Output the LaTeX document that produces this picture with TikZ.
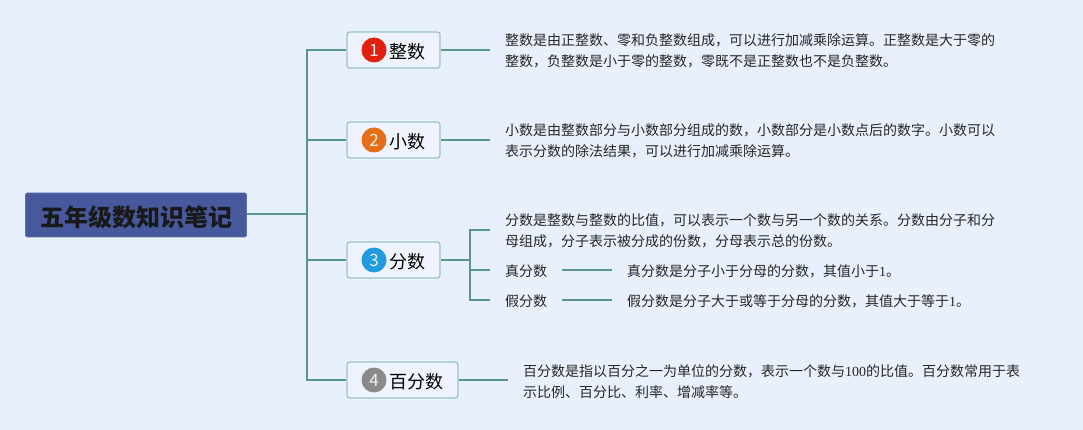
\documentclass[tikz,border=0pt]{standalone}
\usepackage{fontspec}
\usepackage{xcolor}
\setmainfont{Noto Sans CJK SC}
\newfontfamily\numfont{Liberation Serif}
\definecolor{bgblue}{HTML}{E9F0FD}
\definecolor{linegreen}{HTML}{5A9691}
\definecolor{boxline}{HTML}{9CC3C8}
\definecolor{boxfill}{HTML}{EEF3FD}
\definecolor{rootblue}{HTML}{47599C}
\definecolor{badgered}{HTML}{E0210F}
\definecolor{badgeorange}{HTML}{E56F17}
\definecolor{badgeblue}{HTML}{1F9BE0}
\definecolor{badgegray}{HTML}{8A8A8A}
\tikzset{
  root/.style={rectangle, rounded corners=2pt, draw=rootblue!85!white, fill=rootblue, line width=0.8pt,
    minimum width=221pt, minimum height=44pt, inner sep=0pt, text height=22pt, text depth=0pt,
    font=\fontsize{24}{28}\selectfont\bfseries, text=black!90},
  topic/.style={rectangle, rounded corners=2.5pt, draw=boxline, fill=boxfill, line width=1.4pt,
    minimum height=36pt, inner xsep=0pt, inner ysep=0pt, text height=17pt, text depth=0pt,
    font=\fontsize{18}{22}\selectfont},
  badge/.style={circle, minimum size=25pt, inner sep=0pt, text=white!90!gray, font=\fontsize{17}{20}\selectfont},
  note/.style={anchor=west, align=left, inner xsep=15pt, inner ysep=0pt, text=black!85,
    font=\fontsize{14}{21}\selectfont},
  term/.style={note, text height=12.6pt, text depth=0pt},
  link/.style={draw=linegreen, line width=1.7pt}
}
\begin{document}
\begin{tikzpicture}[x=1pt, y=-1pt]
        \useasboundingbox[fill=bgblue] (0,0) rectangle (1083,430);
        % Nodes
        \node[root] (R) at (136,215) {五年级数知识笔记};
        \coordinate (T) at (307,214);
        \node[topic, minimum width=93pt] (T1) at (393.5,50) {\hspace*{28pt}整数};
        \node[topic, minimum width=93pt] (T2) at (393.5,140) {\hspace*{28pt}小数};
        \node[topic, minimum width=93pt] (T3) at (393.5,260) {\hspace*{28pt}分数};
        \node[topic, minimum width=111pt] (T4) at (402.5,380) {\hspace*{28pt}百分数};
        % Badges
        \node[badge, fill=badgered] (B1) at (374,50) {1};
        \node[badge, fill=badgeorange] (B2) at (374,140) {2};
        \node[badge, fill=badgeblue] (B3) at (374,260) {3};
        \node[badge, fill=badgegray] (B4) at (374,380) {4};
        % Notes
        \node[note] (N1) at (490,51) {整数是由正整数、零和负整数组成，可以进行加减乘除运算。正整数是大于零的\\整数，负整数是小于零的整数，零既不是正整数也不是负整数。};
        \node[note] (N2) at (490,141) {小数是由整数部分与小数部分组成的数，小数部分是小数点后的数字。小数可以\\表示分数的除法结果，可以进行加减乘除运算。};
        \node[note] (N3) at (490,231) {分数是整数与整数的比值，可以表示一个数与另一个数的关系。分数由分子和分\\母组成，分子表示被分成的份数，分母表示总的份数。};
        \coordinate (N3a) at (490,230);
        \node[term] (P) at (490,270) {真分数};
        \node[term] (Q) at (490,300) {假分数};
        \node[term] (P1) at (612,270) {真分数是分子小于分母的分数，其值小于{\numfont 1}。};
        \node[term] (Q1) at (612,300) {假分数是分子大于或等于分母的分数，其值大于等于{\numfont 1}。};
        \node[note] (N4) at (508,382) {百分数是指以百分之一为单位的分数，表示一个数与{\numfont 100}的比值。百分数常用于表\\示比例、百分比、利率、增减率等。};
        \coordinate (F) at (470,260);
        % Edges
        \draw[link] (R.east |- T) -- (T);
        \draw[link] (T) |- (T1.west);
        \draw[link] (T) |- (T2.west);
        \draw[link] (T) |- (T3.west);
        \draw[link] (T) |- (T4.west);
        \draw[link] (T1.east) -- (T1.east -| N1.west);
        \draw[link] (T2.east) -- (T2.east -| N2.west);
        \draw[link] (T3.east) -- (F);
        \draw[link] (T4.east) -- (T4.east -| N4.west);
        \draw[link] (F) |- (N3a);
        \draw[link] (F) |- (P.west);
        \draw[link] (F) |- (Q.west);
        \draw[link] (P.east) -- (P1.west);
        \draw[link] (Q.east) -- (Q1.west);
    \end{tikzpicture}
\end{document}
